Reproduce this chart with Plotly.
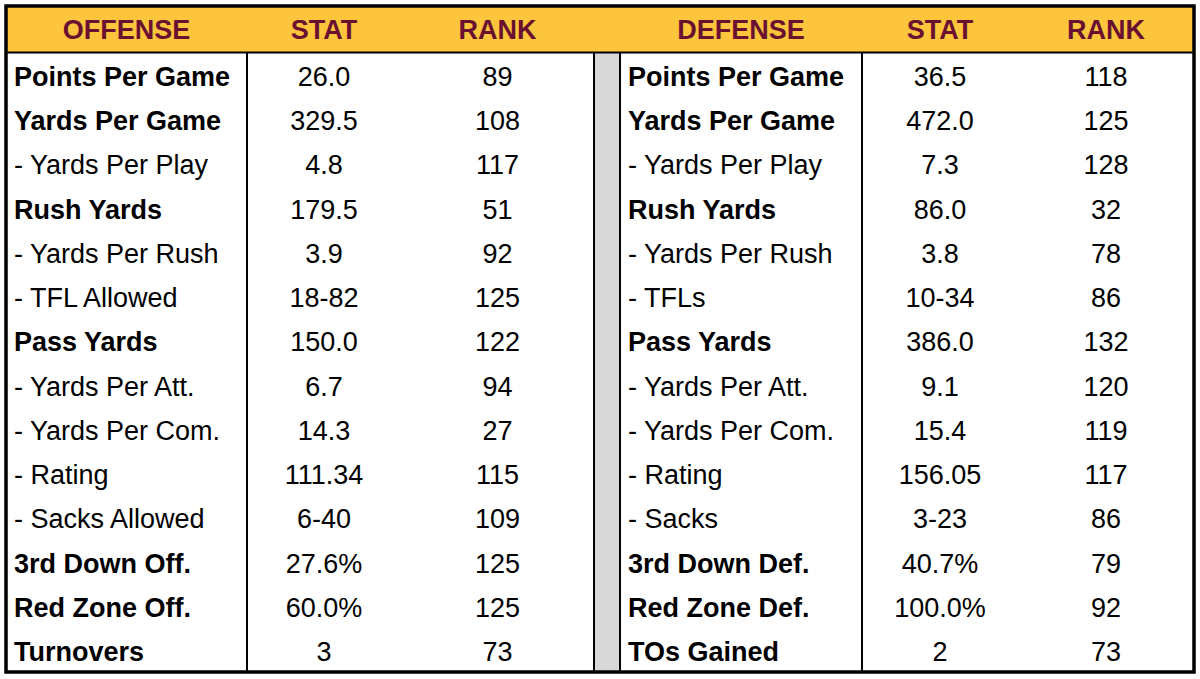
import plotly.graph_objects as go

# ---- data ----
off_labels = ["Points Per Game", "Yards Per Game", "- Yards Per Play", "Rush Yards",
              "- Yards Per Rush", "- TFL Allowed", "Pass Yards", "- Yards Per Att.",
              "- Yards Per Com.", "- Rating", "- Sacks Allowed", "3rd Down Off.",
              "Red Zone Off.", "Turnovers"]
off_stat = ["26.0", "329.5", "4.8", "179.5", "3.9", "18-82", "150.0", "6.7",
            "14.3", "111.34", "6-40", "27.6%", "60.0%", "3"]
off_rank = ["89", "108", "117", "51", "92", "125", "122", "94", "27", "115",
            "109", "125", "125", "73"]
def_labels = ["Points Per Game", "Yards Per Game", "- Yards Per Play", "Rush Yards",
              "- Yards Per Rush", "- TFLs", "Pass Yards", "- Yards Per Att.",
              "- Yards Per Com.", "- Rating", "- Sacks", "3rd Down Def.",
              "Red Zone Def.", "TOs Gained"]
def_stat = ["36.5", "472.0", "7.3", "86.0", "3.8", "10-34", "386.0", "9.1",
            "15.4", "156.05", "3-23", "40.7%", "100.0%", "2"]
def_rank = ["118", "125", "128", "32", "78", "86", "132", "120", "119", "117",
            "86", "79", "92", "73"]
headers = ["OFFENSE", "STAT", "RANK", "", "DEFENSE", "STAT", "RANK"]

# ---- styling ----
W, H = 1200, 679
GOLD = "#FCC53C"
MAROON = "#6A1131"
GRAY = "#D8D8D8"
FONT = "Liberation Sans, Arial, sans-serif"
FS = 27
CLEAR = "rgba(0,0,0,0)"

x0, x1 = 6, 1194          # table frame left/right in px
y_top, y_bot = 6, 672     # table frame top/bottom in px
head_h = 46.5             # header row height
n = len(off_labels)
row_h = (y_bot - y_top - head_h) / n
text_off = 8 + 0.392 * FS  # plotly places text centre ~this far below a cell top
txt_top = y_top + head_h / 2 - text_off + 0.5

col_w = [241, 154, 193, 26, 242, 156, 176]
scale = (x1 - x0) / sum(col_w)
col_w = [w * scale for w in col_w]
aligns = ["left", "center", "center", "center", "left", "center", "center"]


def is_sub(s):
    return s.startswith("- ")


def only(lst, keep_sub):
    return [s if is_sub(s) == keep_sub else "" for s in lst]


blank = [""] * n
# regular-weight layer: sub-rows of labels + all numbers
cols_regular = [only(off_labels, True), off_stat, off_rank, blank,
                only(def_labels, True), def_stat, def_rank]
# bold layer: main labels only
cols_bold = [only(off_labels, False), blank, blank, blank,
             only(def_labels, False), blank, blank]


def make_table(cols, weight, head_vals):
    return go.Table(
        domain=dict(x=[x0 / W, x1 / W], y=[0, 1 - txt_top / H]),
        columnwidth=col_w,
        columnorder=list(range(7)),
        header=dict(
            values=head_vals,
            fill_color=CLEAR,
            line=dict(color=CLEAR, width=0),
            align="center",
            font=dict(family=FONT, size=FS, color=MAROON, weight="bold"),
            height=head_h,
        ),
        cells=dict(
            values=cols,
            fill_color=CLEAR,
            line=dict(color=CLEAR, width=0),
            align=aligns,
            font=dict(family=FONT, size=FS, color="black", weight=weight),
            height=row_h,
        ),
    )


fig = go.Figure()
fig.add_trace(make_table(cols_regular, "normal", headers))
fig.add_trace(make_table(cols_bold, "bold", [""] * 7))

# frame: fills and border lines derived from column widths
edges = [x0]
for w in col_w:
    edges.append(edges[-1] + w)
ybody = y_top + head_h


def px(x):
    return x / W


def py(y):
    return 1 - y / H


shapes = [
    dict(type="rect", xref="paper", yref="paper", layer="below",
         x0=px(x0), x1=px(x1), y0=py(ybody), y1=py(y_top),
         fillcolor=GOLD, line=dict(width=0)),
    dict(type="rect", xref="paper", yref="paper", layer="below",
         x0=px(edges[3]), x1=px(edges[4]), y0=py(y_bot), y1=py(ybody),
         fillcolor=GRAY, line=dict(width=0)),
]
line_black = dict(color="black", width=2)
shapes.append(dict(type="line", xref="paper", yref="paper",
                   x0=px(x0), x1=px(x1), y0=py(ybody), y1=py(ybody), line=line_black))
for i in [1, 3, 4, 5]:
    shapes.append(dict(type="line", xref="paper", yref="paper",
                       x0=px(edges[i]), x1=px(edges[i]), y0=py(ybody), y1=py(y_bot),
                       line=line_black))
shapes.append(dict(type="rect", xref="paper", yref="paper",
                   x0=px(x0), x1=px(x1), y0=py(y_bot), y1=py(y_top),
                   line=dict(color="black", width=3.5)))

fig.update_layout(
    width=W, height=H,
    margin=dict(l=0, r=0, t=0, b=0),
    paper_bgcolor="white",
    plot_bgcolor="white",
    shapes=shapes,
)

fig.write_html("out.html", config={"displayModeBar": False},
               post_script="document.body.style.margin='0';document.body.style.overflow='hidden';")
